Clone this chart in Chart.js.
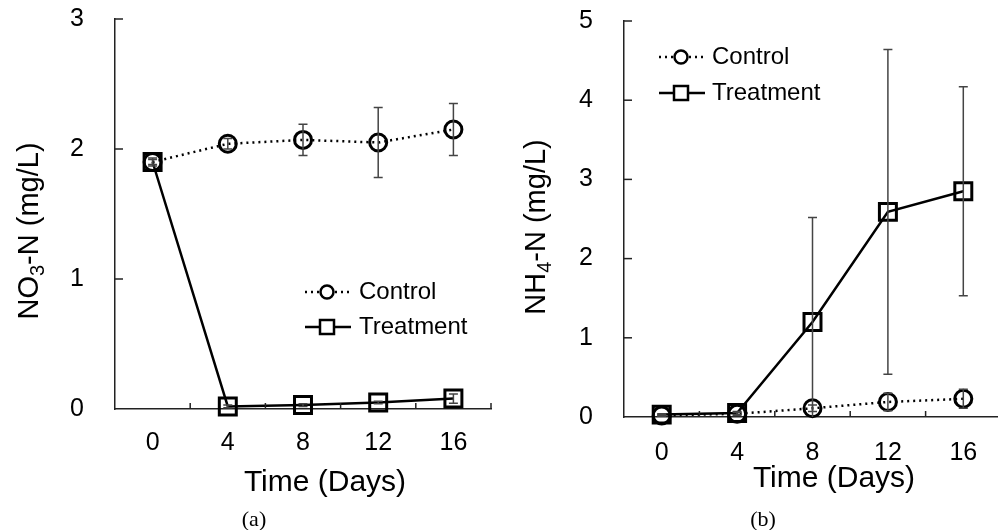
<!DOCTYPE html>
<html><head><meta charset="utf-8">
<script src="https://cdn.jsdelivr.net/npm/chart.js@4.4.0/dist/chart.umd.min.js"></script>
<style>
html,body{margin:0;padding:0;background:#fff;overflow:hidden;width:998px;height:530px;position:relative;}
#pa{position:absolute;left:0;top:0;width:500px;height:530px;}
#pb{position:absolute;left:500px;top:0;width:510px;height:530px;}
</style></head><body>
<div id="pa"><canvas id="ca" width="500" height="530"></canvas></div>
<div id="pb"><canvas id="cb" width="510" height="530"></canvas></div>
<script>
// ---- data ----
const days = ['0', '4', '8', '12', '16'];
const seriesNames = ['Control', 'Treatment'];
const no3Control = [1.90, 2.04, 2.07, 2.05, 2.15];
const no3ControlErr = [0.03, 0.04, 0.12, 0.27, 0.20];
const no3Treatment = [1.90, 0.02, 0.03, 0.05, 0.08];
const no3TreatmentErr = [0.02, 0.01, 0.01, 0.01, 0.035];
const nh4Control = [0.02, 0.04, 0.11, 0.19, 0.23];
const nh4ControlErr = [0.01, 0.02, 0.04, 0.11, 0.12];
const nh4Treatment = [0.03, 0.05, 1.20, 2.59, 2.85];
const nh4TreatmentErr = [0.01, 0.02, 1.32, 2.05, 1.32];
const no3Ticks = [0, 1, 2, 3];
const nh4Ticks = [0, 1, 2, 3, 4, 5];

Chart.defaults.font.family = "'Liberation Sans', Arial, sans-serif";
Chart.defaults.color = '#000';

const decor = {
  id: 'decor',
  afterDatasetsDraw(chart, args, o) {
    const ctx = chart.ctx, x = chart.scales.x, y = chart.scales.y, ca = chart.chartArea;
    ctx.save();
    ctx.beginPath(); ctx.rect(ca.left, 0, ca.right - ca.left + 20, ca.bottom); ctx.clip();
    ctx.strokeStyle = '#444'; ctx.lineWidth = 1.5;
    chart.data.datasets.forEach(ds => {
      ds.errors.forEach((e, i) => {
        const v = ds.data[i];
        const px = x.getPixelForValue(i);
        const t = y.getPixelForValue(v + e), b = y.getPixelForValue(v - e);
        ctx.beginPath();
        ctx.moveTo(px, t); ctx.lineTo(px, b);
        ctx.moveTo(px - 4.5, t); ctx.lineTo(px + 4.5, t);
        ctx.moveTo(px - 4.5, b); ctx.lineTo(px + 4.5, b);
        ctx.stroke();
      });
    });
    ctx.restore();
  },
  afterDraw(chart, args, o) {
    const ctx = chart.ctx, x = chart.scales.x, y = chart.scales.y, ca = chart.chartArea;
    ctx.save();
    ctx.strokeStyle = '#222'; ctx.lineWidth = 1.5;
    y.ticks.forEach(t => {
      if (t.value === 0) return;
      const py = y.getPixelForValue(t.value);
      ctx.beginPath(); ctx.moveTo(ca.left, py); ctx.lineTo(ca.left + 8, py); ctx.stroke();
    });
    for (let i = 1; i <= days.length; i++) {
      const px = x.getPixelForValue(i - 0.5);
      ctx.beginPath(); ctx.moveTo(px, ca.bottom); ctx.lineTo(px, ca.bottom - 6); ctx.stroke();
    }
    ctx.fillStyle = '#000';
    ctx.translate(o.yTitleX, o.yTitleY);
    ctx.rotate(-Math.PI / 2);
    const mainF = "29px 'Liberation Sans', Arial, sans-serif";
    const subF = "20px 'Liberation Sans', Arial, sans-serif";
    let total = 0;
    o.yTitle.forEach(s => { ctx.font = s.sub ? subF : mainF; total += ctx.measureText(s.t).width; });
    let cx = -total / 2;
    ctx.textBaseline = 'middle'; ctx.textAlign = 'left';
    o.yTitle.forEach(s => {
      ctx.font = s.sub ? subF : mainF;
      ctx.fillText(s.t, cx, s.sub ? 8 : 0);
      cx += ctx.measureText(s.t).width;
    });
    ctx.setTransform(1, 0, 0, 1, 0, 0);
    ctx.textAlign = 'center'; ctx.textBaseline = 'middle';
    ctx.font = "30px 'Liberation Sans', Arial, sans-serif";
    ctx.fillText(o.xTitle, o.xTitleX, o.xTitleY);
    ctx.font = "22px 'Liberation Serif', 'DejaVu Serif', serif";
    ctx.fillText(o.caption, o.capX, o.capY);
    const L = o.legend;
    ctx.font = "24px 'Liberation Sans', Arial, sans-serif";
    ctx.textAlign = 'left';
    chart.data.datasets.forEach((ds, i) => {
      const ly = L.y[i];
      ctx.strokeStyle = '#000';
      ctx.lineWidth = ds.borderWidth;
      ctx.setLineDash(ds.borderDash || []);
      ctx.beginPath(); ctx.moveTo(L.x0, ly); ctx.lineTo(L.x1, ly); ctx.stroke();
      ctx.setLineDash([]);
      ctx.lineWidth = 2.5;
      ctx.fillStyle = '#fff';
      ctx.beginPath();
      if (ds.pointStyle === 'circle') ctx.arc(L.mx, ly, 6.5, 0, Math.PI * 2);
      else ctx.rect(L.mx - 7, ly - 7, 14, 14);
      ctx.fill(); ctx.stroke();
      ctx.fillStyle = '#000';
      ctx.fillText(ds.label, L.tx, ly);
    });
    ctx.restore();
  }
};

function makeChart(id, ctrl, ctrlErr, trt, trtErr, ticks, opts) {
  const common = { borderColor: '#000', pointBorderColor: '#000', pointBackgroundColor: 'rgba(0,0,0,0)',
    backgroundColor: 'rgba(0,0,0,0)', pointBorderWidth: 3, tension: 0, clip: false, fill: false };
  return new Chart(document.getElementById(id), {
    type: 'line',
    data: {
      labels: days,
      datasets: [
        Object.assign({ label: seriesNames[0], data: ctrl, errors: ctrlErr, borderWidth: 2.5, borderDash: [2, 4],
          pointStyle: 'circle', pointRadius: 8.5 }, common),
        Object.assign({ label: seriesNames[1], data: trt, errors: trtErr, borderWidth: 2.5,
          pointStyle: 'rect', pointRadius: 12 }, common)
      ]
    },
    options: {
      responsive: false, animation: false, devicePixelRatio: 1,
      layout: { autoPadding: false, padding: { left: 0, right: 9, top: opts.top, bottom: 0 } },
      plugins: { legend: { display: false }, tooltip: { enabled: false }, decor: opts.decor },
      scales: {
        x: {
          type: 'category', offset: true,
          grid: { display: false, offset: true, drawTicks: true, tickLength: opts.xPad },
          border: { display: true, color: '#222', width: 1.5 },
          ticks: { font: { size: 25 }, padding: 0, color: '#000' },
          afterFit: s => { s.height = opts.xH; s.paddingLeft = 0; s.paddingRight = 0; }
        },
        y: {
          min: ticks[0], max: ticks[ticks.length - 1],
          afterBuildTicks: s => { s.ticks = ticks.map(v => ({ value: v })); },
          grid: { display: false, drawTicks: true, tickLength: 31 },
          border: { display: true, color: '#222', width: 1.5 },
          ticks: { font: { size: 25 }, padding: 0, color: '#000' },
          afterFit: s => { s.width = opts.yW; s.paddingTop = 0; s.paddingBottom = 0; }
        }
      }
    },
    plugins: [decor]
  });
}

makeChart('ca', no3Control, no3ControlErr, no3Treatment, no3TreatmentErr, no3Ticks, {
  top: 19, xH: 121, yW: 115, xPad: 19,
  decor: {
    yTitle: [{ t: 'NO' }, { t: '3', sub: true }, { t: '-N (mg/L)' }], yTitleX: 30, yTitleY: 231,
    xTitle: 'Time (Days)', xTitleX: 325, xTitleY: 483,
    caption: '(a)', capX: 254, capY: 520,
    legend: { x0: 305, x1: 351, mx: 327, tx: 359, y: [292, 327] }
  }
});
makeChart('cb', nh4Control, nh4ControlErr, nh4Treatment, nh4TreatmentErr, nh4Ticks, {
  top: 21, xH: 113, yW: 124, xPad: 21,
  decor: {
    yTitle: [{ t: 'NH' }, { t: '4', sub: true }, { t: '-N (mg/L)' }], yTitleX: 37, yTitleY: 227,
    xTitle: 'Time (Days)', xTitleX: 334, xTitleY: 479,
    caption: '(b)', capX: 263, capY: 520,
    legend: { x0: 159, x1: 205, mx: 181, tx: 212, y: [57, 93] }
  }
});
</script>
</body></html>
